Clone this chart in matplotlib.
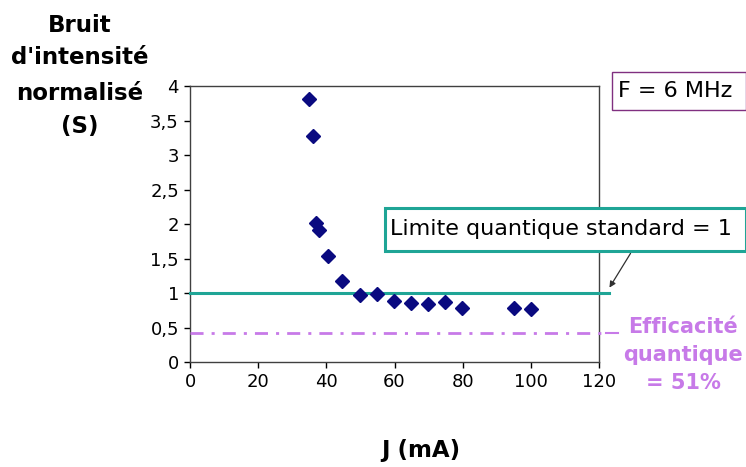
import numpy as np
import matplotlib.pyplot as plt
from matplotlib.patches import Rectangle

# data
j_ma = [35, 36, 37, 37.9, 40.4, 44.7, 49.9, 54.8, 59.9, 64.8, 69.8, 74.9, 79.8, 95, 100]
noise = [3.81, 3.28, 2.02, 1.91, 1.54, 1.17, 0.97, 0.99, 0.89, 0.85, 0.84, 0.865, 0.79, 0.79, 0.77]
sql_level = 1.0
eff_level = 0.42
xticks = [0, 20, 40, 60, 80, 100, 120]
yticks = [0, 0.5, 1, 1.5, 2, 2.5, 3, 3.5, 4]
ytick_labels = ['0', '0,5', '1', '1,5', '2', '2,5', '3', '3,5', '4']

teal = '#1fa596'
violet = '#c77ae8'
navy = '#0a0a80'

fig = plt.figure(figsize=(7.46, 4.67), dpi=100)
ax = fig.add_axes([0.2547, 0.2248, 0.5483, 0.591])

ax.plot(j_ma, noise, 'D', color=navy, ms=7, zorder=5)

ax.set_xlim(0, 120)
ax.set_ylim(0, 4)
ax.set_xticks(xticks)
ax.set_yticks(yticks)
ax.set_yticklabels(ytick_labels)
ax.tick_params(labelsize=13, length=4, width=1, direction='out', pad=4)
for sp in ax.spines.values():
    sp.set_color('#404040')
    sp.set_linewidth(1)

# standard quantum limit line, runs a bit past the axes
ax.plot([0, 123], [sql_level, sql_level], color=teal, lw=2.2, clip_on=False, zorder=4)
# quantum efficiency line
ax.plot([0, 121], [eff_level, eff_level], color=violet, lw=2, ls=(0, (4.7, 2.9, 1.1, 2.9)),
        clip_on=False, zorder=4)
ax.plot([122, 125.5], [eff_level, eff_level], color=violet, lw=1.5, clip_on=False)

# boxes
fig.patches.append(Rectangle((384.7 / 746, 1 - 250.7 / 467), (746 - 384.7) / 746, 42.7 / 467,
                             transform=fig.transFigure, fill=True, facecolor='white',
                             edgecolor=teal, lw=2.2, zorder=10))
fig.text(390 / 746, 1 - 229.5 / 467, 'Limite quantique standard = 1', fontsize=16,
         va='center', ha='left', zorder=11)
fig.patches.append(Rectangle((612 / 746, 1 - 110 / 467), (746 - 612) / 746, 38 / 467,
                             transform=fig.transFigure, fill=True, facecolor='white',
                             edgecolor='#803080', lw=1, zorder=10))
fig.text(618 / 746, 1 - 91 / 467, 'F = 6 MHz', fontsize=16, va='center', ha='left', zorder=11)

# arrow from box to line
ax.annotate('', xy=(608 / 746, 1 - 290 / 467), xycoords='figure fraction',
            xytext=(632 / 746, 1 - 251 / 467), textcoords='figure fraction',
            arrowprops=dict(arrowstyle='-|>', color='#303030', lw=0.9, mutation_scale=9))

# efficiency label
fig.text(683 / 746, 1 - 327 / 467, 'Efficacité', color=violet, fontsize=15,
         fontweight='bold', ha='center', va='center')
fig.text(683 / 746, 1 - 355 / 467, 'quantique', color=violet, fontsize=15,
         fontweight='bold', ha='center', va='center')
fig.text(683 / 746, 1 - 383 / 467, '= 51%', color=violet, fontsize=15,
         fontweight='bold', ha='center', va='center')

# y label, stacked to the left
for txt, yy in [('Bruit', 25), ("d'intensité", 58), ('normalisé', 93), ('(S)', 127)]:
    fig.text(80 / 746, 1 - yy / 467, txt, fontsize=16.5, fontweight='bold',
             ha='center', va='center')

fig.text(421 / 746, 1 - 450 / 467, 'J (mA)', fontsize=16.5, fontweight='bold',
         ha='center', va='center')

plt.savefig('out.png', dpi=100)
